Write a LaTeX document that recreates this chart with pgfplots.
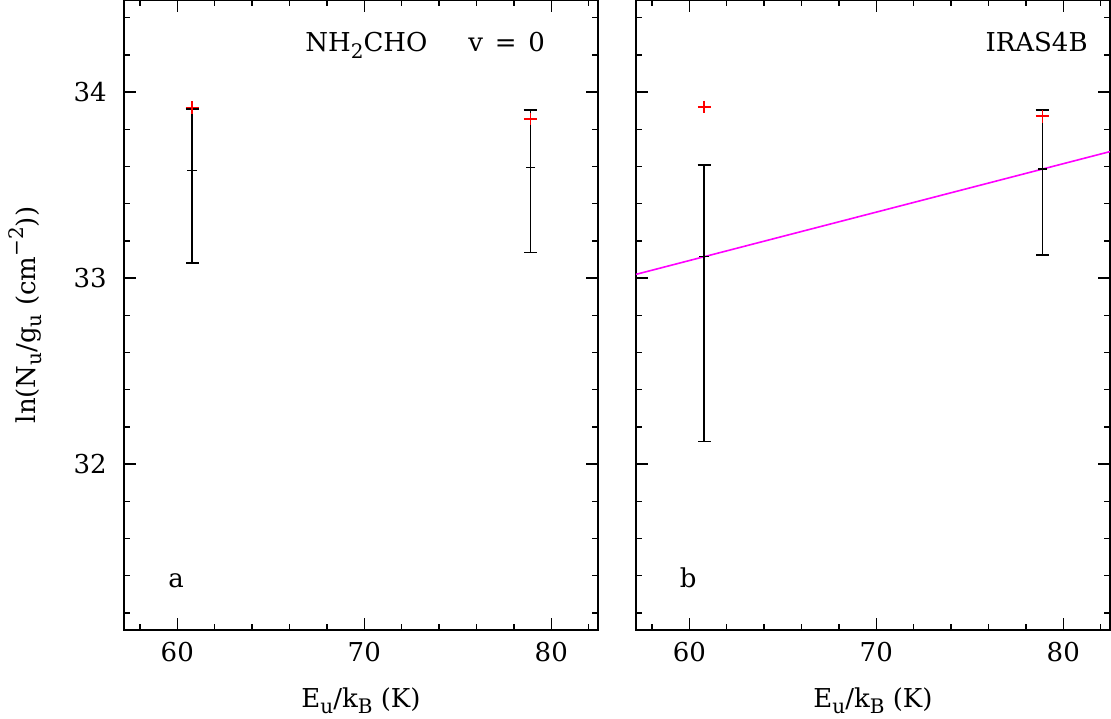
\documentclass[border=0pt]{standalone}
\usepackage{fontspec}
\setmainfont{DejaVu Serif}
\usepackage{pgfplots}
\pgfplotsset{compat=1.18}
\usepackage{pgfplotstable}
\definecolor{fitmag}{rgb}{1,0,1}
\definecolor{ptred}{rgb}{1,0,0}
\newcommand\sub[1]{\raisebox{-0.45ex}{\fontsize{10}{12}\selectfont #1}}
\newcommand\sups[1]{\raisebox{0.9ex}{\fontsize{10}{12}\selectfont #1}}

\pgfplotstableread{
x y ep em
60.80 33.579 0.330 0.497
78.88 33.595 0.308 0.457
}\dataA
\pgfplotstableread{
x y
60.80 33.916
78.88 33.855
}\redA
\pgfplotstableread{
x y ep em
60.80 33.115 0.494 0.993
78.88 33.586 0.317 0.462
}\dataB
\pgfplotstableread{
x y
60.80 33.920
78.88 33.870
}\redB

\pgfplotsset{
  panel/.style={
    scale only axis,
    width=237pt, height=315pt,
    xmin=57.15, xmax=82.5,
    ymin=31.108, ymax=34.495,
    xtick={60,70,80},
    minor xtick={58,62,64,66,68,72,74,76,78,82},
    ytick={32,33,34},
    minor ytick={31.2,31.4,31.6,31.8,32.2,32.4,32.6,32.8,33.2,33.4,33.6,33.8,34.2,34.4},
    tick align=inside,
    major tick length=6pt,
    minor tick length=3pt,
    axis line style={line width=1pt},
    every tick/.style={black, line width=0.75pt},
    font=\fontsize{13}{15}\selectfont,
    tick label style={font=\fontsize{13}{15}\selectfont},
    /pgf/number format/assume math mode=true,
    xticklabel style={anchor=base, inner sep=0pt, yshift=-15.8pt},
    yticklabel style={anchor=east, inner sep=0pt, xshift=-8.5pt},
    xlabel={E\sub{u}/k\sub{B} (K)},
    xlabel style={at={(axis description cs:0.5,0)}, anchor=base, inner sep=0pt, yshift=-38.5pt},
    clip=false,
  },
  ebar/.style={
    black, only marks, mark=-, mark size=2.4pt, line width=0.8pt,
    error bars/.cd, y dir=both, y explicit,
    error bar style={line width=0.8pt, black},
    error mark options={rotate=90, mark size=3.3pt, line width=0.8pt, black},
  },
}

\begin{document}
\begin{tikzpicture}
\begin{axis}[panel,
  at={(62pt,44pt)}, anchor=south west,
  ylabel={ln(N\sub{u}/g\sub{u} (cm\sups{−2}))},
  ylabel style={at={(axis description cs:0,0.5)}, anchor=center, inner sep=0pt, yshift=49.5pt},
]
\addplot[ebar] table[x=x, y=y, y error plus=ep, y error minus=em] {\dataA};
\addplot[ptred, only marks, mark=+, mark size=3.2pt, line width=0.8pt] table[x=x, y=y] {\redA};
\node[anchor=base west, inner sep=0pt] at (rel axis cs:0.3819,0.9175) {NH\sub{2}CHO};
\node[anchor=base west, inner sep=0pt] at (rel axis cs:0.7257,0.9175) {v\hspace{0.45em}=\hspace{0.45em}0};
\node[anchor=base, inner sep=0pt] at (rel axis cs:0.11,0.068) {a};
\end{axis}
\begin{axis}[panel,
  at={(318pt,44pt)}, anchor=south west,
  yticklabels={},
]
\addplot[fitmag, line width=0.8pt] coordinates {(57.15,33.020) (82.5,33.680)};
\addplot[ebar] table[x=x, y=y, y error plus=ep, y error minus=em] {\dataB};
\addplot[ptred, only marks, mark=+, mark size=3.2pt, line width=0.8pt] table[x=x, y=y] {\redB};
\node[anchor=base east, inner sep=0pt] at (rel axis cs:0.9536,0.9175) {IRAS4B};
\node[anchor=base, inner sep=0pt] at (rel axis cs:0.11,0.068) {b};
\end{axis}
\pgfresetboundingbox
\path[use as bounding box] (0,0) rectangle (555.5pt,359pt);
\end{tikzpicture}
\end{document}
